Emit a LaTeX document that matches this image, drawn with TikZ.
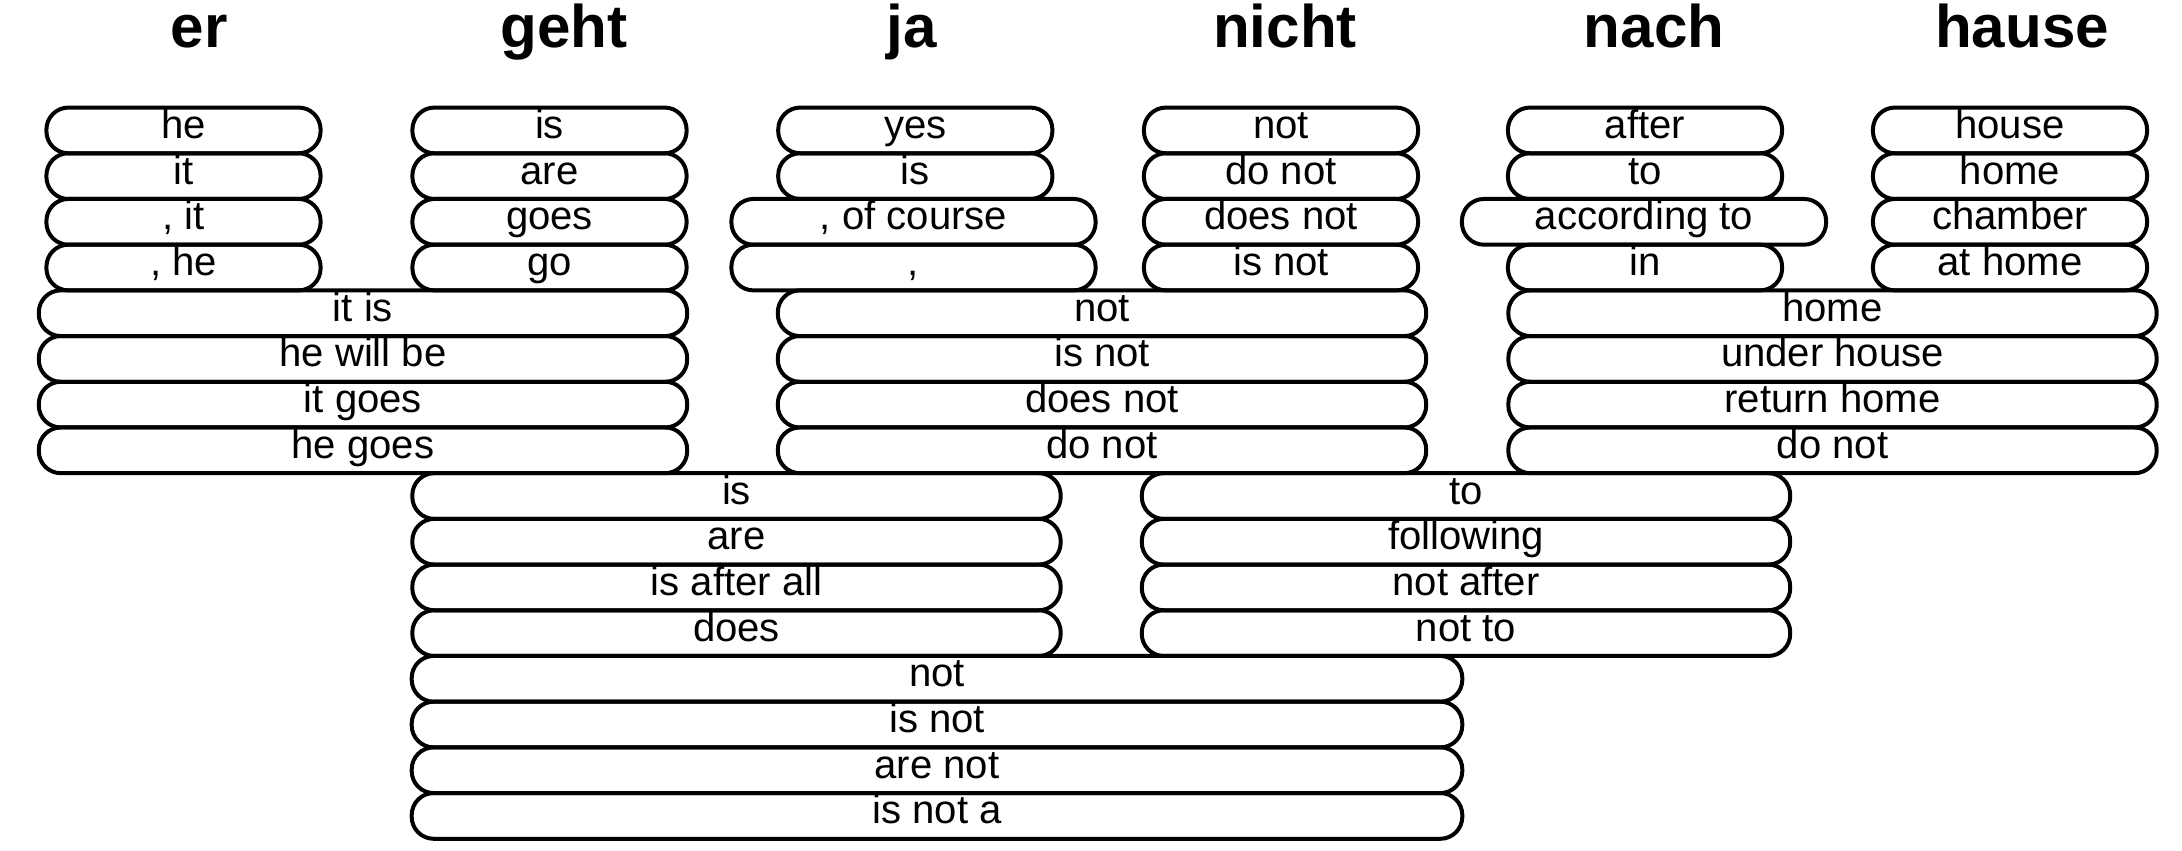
\documentclass[tikz,border=0pt]{standalone}
\usepackage{fontspec}
\setmainfont{Liberation Sans}
\usepackage{tikz}

\tikzset{
  phrase/.style={draw=black, line width=0.04cm, rounded corners=0.22cm,
    minimum height=0.457cm, inner ysep=0pt, text height=0.30cm, text depth=0.14cm,
    font=\fontsize{11.4pt}{13pt}\selectfont},
  w1/.style={phrase, minimum width=2.74cm},
  w1b/.style={phrase, minimum width=3.64cm},
  w2/.style={phrase, minimum width=6.48cm},
  w3/.style={phrase, minimum width=10.50cm},
  word/.style={anchor=base, font=\fontsize{17.1pt}{20pt}\selectfont\bfseries}
}

\begin{document}
\begin{tikzpicture}[x=0.01cm, y=-0.01cm]
	\useasboundingbox (0,0) rectangle (2182,850);
	\node[word] (wEr) at (199,47) {er};
	\node[word] (wGeht) at (564,47) {geht};
	\node[word] (wJa) at (912,47) {ja};
	\node[word] (wNicht) at (1285,47) {nicht};
	\node[word] (wNach) at (1654,47) {nach};
	\node[word] (wHause) at (2022,47) {hause};
	\node[w1] (er1) at (183.5,130.4) {he};
	\node[w1] (er2) at (183.5,176.1) {it};
	\node[w1] (er3) at (183.5,221.8) {, it};
	\node[w1] (er4) at (183.5,267.5) {, he};
	\node[w1] (geht1) at (549.5,130.4) {is};
	\node[w1] (geht2) at (549.5,176.1) {are};
	\node[w1] (geht3) at (549.5,221.8) {goes};
	\node[w1] (geht4) at (549.5,267.5) {go};
	\node[w1] (ja1) at (915.3,130.4) {yes};
	\node[w1] (ja2) at (915.3,176.1) {is};
	\node[w1b] (ja3) at (913.5,221.8) {, of course};
	\node[w1b] (ja4) at (913.5,267.5) {,};
	\node[w1] (nicht1) at (1281,130.4) {not};
	\node[w1] (nicht2) at (1281,176.1) {do not};
	\node[w1] (nicht3) at (1281,221.8) {does not};
	\node[w1] (nicht4) at (1281,267.5) {is not};
	\node[w1] (nach1) at (1645,130.4) {after};
	\node[w1] (nach2) at (1645,176.1) {to};
	\node[w1b] (nach3) at (1644,221.8) {according to};
	\node[w1] (nach4) at (1645,267.5) {in};
	\node[w1] (hause1) at (2010,130.4) {house};
	\node[w1] (hause2) at (2010,176.1) {home};
	\node[w1] (hause3) at (2010,221.8) {chamber};
	\node[w1] (hause4) at (2010,267.5) {at home};
	\node[w2] (erGeht1) at (363,313.2) {it is};
	\node[w2] (erGeht2) at (363,358.9) {he will be};
	\node[w2] (erGeht3) at (363,404.6) {it goes};
	\node[w2] (erGeht4) at (363,450.3) {he goes};
	\node[w2] (jaNicht1) at (1102,313.2) {not};
	\node[w2] (jaNicht2) at (1102,358.9) {is not};
	\node[w2] (jaNicht3) at (1102,404.6) {does not};
	\node[w2] (jaNicht4) at (1102,450.3) {do not};
	\node[w2] (nachHause1) at (1832.5,313.2) {home};
	\node[w2] (nachHause2) at (1832.5,358.9) {under house};
	\node[w2] (nachHause3) at (1832.5,404.6) {return home};
	\node[w2] (nachHause4) at (1832.5,450.3) {do not};
	\node[w2] (gehtJa1) at (736.5,496.0) {is};
	\node[w2] (gehtJa2) at (736.5,541.7) {are};
	\node[w2] (gehtJa3) at (736.5,587.4) {is after all};
	\node[w2] (gehtJa4) at (736.5,633.1) {does};
	\node[w2] (nichtNach1) at (1466,496.0) {to};
	\node[w2] (nichtNach2) at (1466,541.7) {following};
	\node[w2] (nichtNach3) at (1466,587.4) {not after};
	\node[w2] (nichtNach4) at (1466,633.1) {not to};
	\node[w3] (gehtNicht1) at (937,678.8) {not};
	\node[w3] (gehtNicht2) at (937,724.5) {is not};
	\node[w3] (gehtNicht3) at (937,770.2) {are not};
	\node[w3] (gehtNicht4) at (937,815.9) {is not a};
\end{tikzpicture}
\end{document}
